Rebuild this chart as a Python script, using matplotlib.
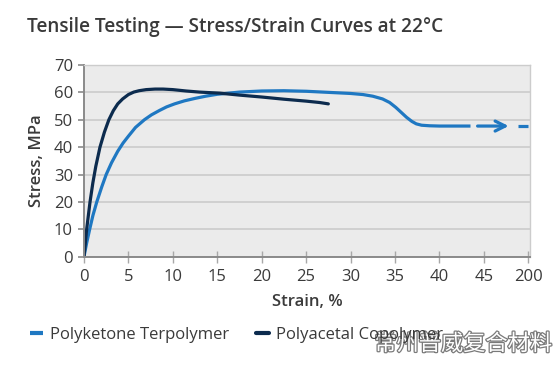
import matplotlib.pyplot as plt
import matplotlib.patheffects as pe

# ── data ─────────────────────────────────────────────────────────────────────
pk_strain = [0, 0.3, 0.64, 1.0, 1.44, 2.0, 2.5, 3.1, 3.8, 4.4, 5.0, 5.8, 6.8, 7.6,
             8.5, 9.3, 10.2, 11.3, 12.5, 13.7, 15.0, 17.5, 20.0, 22.5, 25.0, 27.5,
             30.0, 31.4, 32.5, 33.6, 34.4, 35.1, 35.7, 36.3, 36.9, 37.4, 38.0,
             38.9, 40.0, 43.5]
pk_stress = [0, 5, 10, 15, 20, 25.5, 30, 34.3, 38.5, 41.5, 44, 47.2, 50, 51.8,
             53.4, 54.7, 55.8, 56.9, 57.8, 58.6, 59.3, 60.1, 60.5, 60.6, 60.4, 60.0,
             59.6, 59.2, 58.6, 57.6, 56.3, 54.5, 52.7, 50.9, 49.4, 48.5, 48.0,
             47.8, 47.7, 47.7]

pa_strain = [0, 0.3, 0.68, 1.0, 1.33, 1.8, 2.3, 2.8, 3.3, 3.8, 4.35, 5.0, 5.6,
             6.2, 7.0, 8.0, 8.9, 10.0, 11.5, 13.0, 15.3, 17.5, 20.0, 22.5, 25.0,
             26.5, 27.5]
pa_stress = [0, 10, 20, 27, 33, 40, 45.5, 50, 53.3, 55.8, 57.6, 59.2, 60.1,
             60.6, 61.0, 61.2, 61.2, 61.0, 60.5, 60.1, 59.7, 59.0, 58.3, 57.5, 56.8,
             56.3, 55.8]

dash_strain = [44.3, 47.8]
end_strain = [48.8, 50.0]
plateau = 47.7

x_ticks = [0, 5, 10, 15, 20, 25, 30, 35, 40, 45, 50]
x_labels = ["0", "5", "10", "15", "20", "25", "30", "35", "40", "45", "200"]
y_ticks = [0, 10, 20, 30, 40, 50, 60, 70]

light_blue = "#1f78c2"
navy = "#0c2b4e"
text_col = "#3a3a3a"

plt.rcParams["font.family"] = ["Open Sans", "DejaVu Sans"]

# ── figure ───────────────────────────────────────────────────────────────────
fig = plt.figure(figsize=(5.54, 3.65), dpi=100)
ax = fig.add_axes([0.1516, 0.2967, 0.8051, 0.5253])
ax.set_facecolor("#ebebeb")

ax.plot(pk_strain, pk_stress, color=light_blue, linewidth=2.3,
        solid_joinstyle="round", solid_capstyle="butt", label="Polyketone Terpolymer")
ax.plot(pa_strain, pa_stress, color=navy, linewidth=2.3,
        solid_joinstyle="round", solid_capstyle="round", label="Polyacetal Copolymer")

# dashed continuation with arrow (broken axis towards 200 %)
ax.annotate("", xy=(dash_strain[1], plateau), xytext=(dash_strain[0], plateau),
            arrowprops=dict(arrowstyle="->", color=light_blue, lw=2.3,
                            mutation_scale=18, shrinkA=0, shrinkB=0))
ax.plot(end_strain, [plateau, plateau], color=light_blue, linewidth=2.3,
        solid_capstyle="butt")

ax.set_xlim(0, 50.2)
ax.set_ylim(0, 70)
ax.set_xticks(x_ticks)
ax.set_xticklabels(x_labels)
ax.set_yticks(y_ticks)

ax.grid(axis="y", color="#c9c9c9", linewidth=1.1)
ax.set_axisbelow(True)

for side in ["top", "right"]:
    ax.spines[side].set_color("#cccccc")
    ax.spines[side].set_linewidth(1.0)
ax.spines["left"].set_color("#8a8a8a")
ax.spines["left"].set_linewidth(1.4)
ax.spines["bottom"].set_color("#8a8a8a")
ax.spines["bottom"].set_linewidth(1.4)

ax.tick_params(axis="x", direction="inout", length=9, width=1.0, color="#a8a8a8",
               labelsize=12, labelcolor=text_col, pad=4)
ax.tick_params(axis="y", direction="out", length=4, width=1.2, color="#8a8a8a",
               labelsize=12, labelcolor=text_col, pad=4)

ax.set_xlabel("Strain, %", fontsize=12, fontweight="semibold", color=text_col, labelpad=7)
ax.set_ylabel("Stress, MPa", fontsize=12, fontweight="semibold", color=text_col, labelpad=6)

fig.text(0.049, 0.925, "Tensile Testing — Stress/Strain Curves at 22°C",
         fontsize=13.7, fontweight="semibold", color=text_col, va="center", ha="left")

leg = fig.legend(loc="center left", bbox_to_anchor=(0.027, 0.082), ncol=2, frameon=False,
                 fontsize=12, handlelength=0.8, handletextpad=0.4, columnspacing=1.6,
                 labelcolor=text_col)
for line in leg.get_lines():
    line.set_linewidth(3)

fig.text(0.997, 0.058, "常州普威复合材料", fontsize=16, color="white",
         family=["Noto Sans CJK SC", "DejaVu Sans"], ha="right", va="center",
         path_effects=[pe.withStroke(linewidth=1.8, foreground="#7a7a7a")])

fig.savefig("out.png", dpi=100)
plt.close(fig)
